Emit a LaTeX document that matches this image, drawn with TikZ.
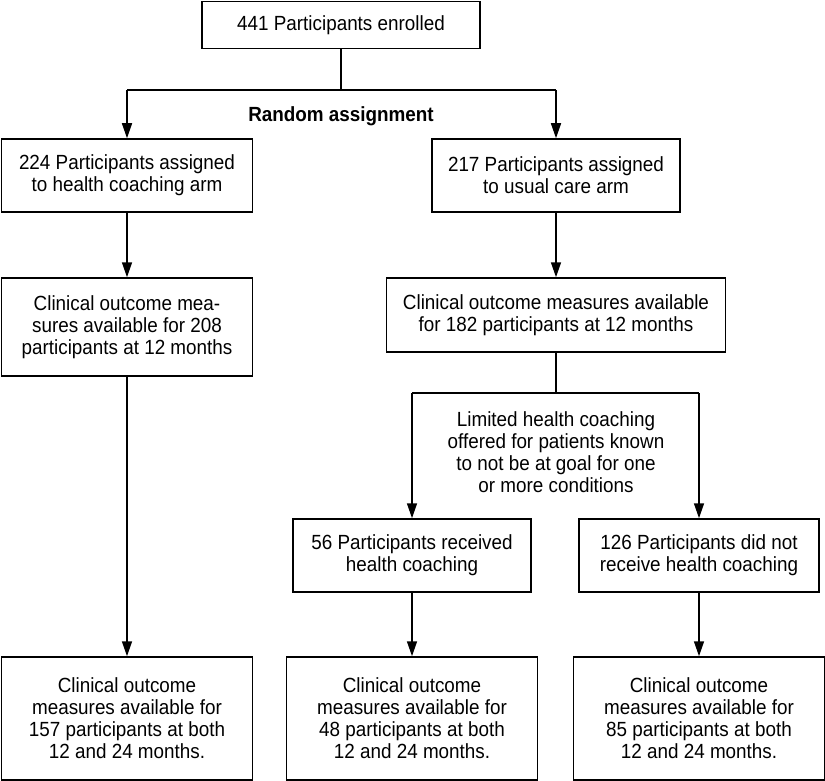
\documentclass[tikz,border=0pt]{standalone}
\usepackage{fontspec}
\setmainfont[FakeStretch=0.92]{Liberation Sans}
\usetikzlibrary{arrows.meta}
\begin{document}
\begin{tikzpicture}[x=1pt,y=-1pt,
 box/.style={draw, line width=1.5pt, inner sep=0pt, align=center, font=\fontsize{20.5}{22}\selectfont},
 lbl/.style={inner sep=0pt, align=center, font=\fontsize{20.5}{22}\selectfont},
 arr/.style={line width=1.5pt, -{Triangle[length=15pt,width=10pt]}},
 ln/.style={line width=1.5pt}]
\useasboundingbox (0,0) rectangle (825,781);
\node[box, minimum width=278pt, minimum height=47pt] (enr) at (341,25) {441 Participants enrolled};
\node[box, minimum width=251pt, minimum height=73pt] (b224) at (127,175.5) {224 Participants assigned\\to health coaching arm};
\node[box, minimum width=248pt, minimum height=73pt] (b217) at (556,175.5) {217 Participants assigned\\to usual care arm};
\node[lbl, font=\fontsize{20.5}{22}\selectfont\bfseries] (ra) at (341,116) {Random assignment};
\node[box, minimum width=251pt, minimum height=98pt] (b208) at (127,327) {Clinical outcome mea-\\sures available for 208\\participants at 12 months};
\node[box, minimum width=339pt, minimum height=74pt] (b182) at (556,315) {Clinical outcome measures available\\for 182 participants at 12 months};
\node[lbl] (lim) at (556,452) {Limited health coaching\\offered for patients known\\to not be at goal for one\\or more conditions};
\node[box, minimum width=238pt, minimum height=73pt] (b56) at (412,555.5) {56 Participants received\\health coaching};
\node[box, minimum width=240pt, minimum height=73pt] (b126) at (699,555.5) {126 Participants did not\\receive health coaching};
\node[box, minimum width=251pt, minimum height=123pt] (c157) at (127,718.5) {Clinical outcome\\measures available for\\157 participants at both\\12 and 24 months.};
\node[box, minimum width=251pt, minimum height=123pt] (c48) at (412,718.5) {Clinical outcome\\measures available for\\48 participants at both\\12 and 24 months.};
\node[box, minimum width=251pt, minimum height=123pt] (c85) at (699,718.5) {Clinical outcome\\measures available for\\85 participants at both\\12 and 24 months.};
\coordinate (j1) at (341,90);
\coordinate (jl) at (127,90);
\coordinate (jr) at (556,90);
\coordinate (j2) at (556,393);
\coordinate (j2l) at (412,393);
\coordinate (j2r) at (699,393);
\draw[ln] (enr.south) -- (j1);
\draw[ln] (jl) -- (jr);
\draw[arr] (jl) -- (b224.north);
\draw[arr] (jr) -- (b217.north);
\draw[arr] (b224.south) -- (b208.north);
\draw[arr] (b217.south) -- (b182.north);
\draw[arr] (b208.south) -- (c157.north);
\draw[ln] (b182.south) -- (j2);
\draw[ln] (j2l) -- (j2r);
\draw[arr] (j2l) -- (b56.north);
\draw[arr] (j2r) -- (b126.north);
\draw[arr] (b56.south) -- (c48.north);
\draw[arr] (b126.south) -- (c85.north);
\end{tikzpicture}
\end{document}
